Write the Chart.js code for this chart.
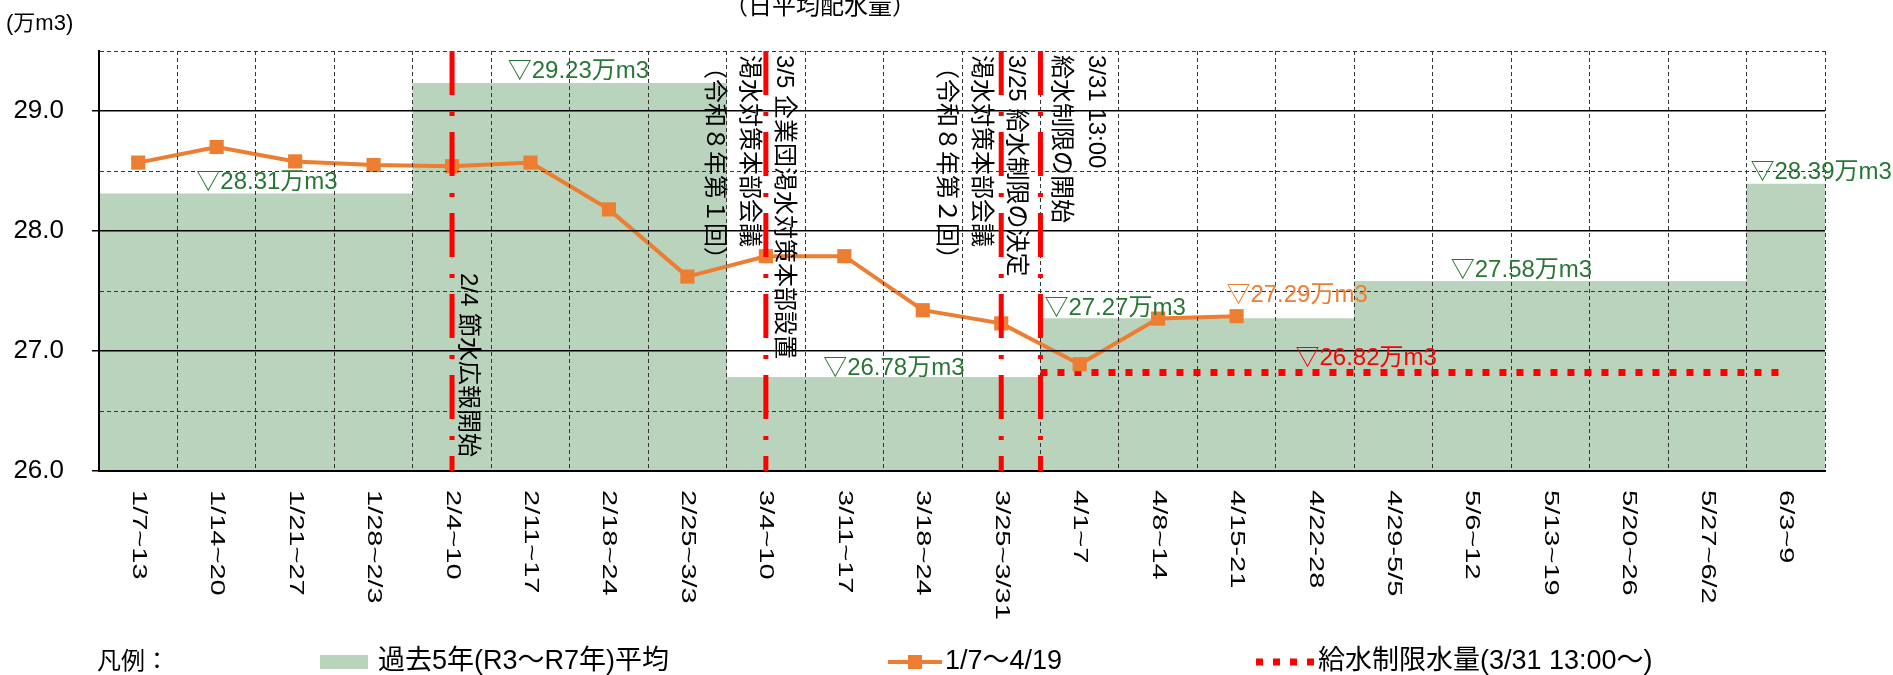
<!DOCTYPE html>
<html>
<head>
<meta charset="utf-8">
<script src="https://cdn.jsdelivr.net/npm/chart.js@4/dist/chart.umd.min.js"></script>
<style>
html, body { margin: 0; padding: 0; background: #fff; }
#wrap { width: 1893px; height: 675px; }
</style>
</head>
<body>
<div id="wrap"><canvas id="chart"></canvas></div>
<script>
let weeks = ['1/7~13', '1/14~20', '1/21~27', '1/28~2/3', '2/4~10', '2/11~17', '2/18~24', '2/25~3/3',
    '3/4~10', '3/11~17', '3/18~24', '3/25~3/31', '4/1~7', '4/8~14', '4/15-21', '4/22-28',
    '4/29-5/5', '5/6~12', '5/13~19', '5/20~26', '5/27~6/2', '6/3~9'];
let pastAvg = [28.31, 28.31, 28.31, 28.31, 29.23, 29.23, 29.23, 29.23, 26.78, 26.78, 26.78, 26.78,
    27.27, 27.27, 27.27, 27.27, 27.58, 27.58, 27.58, 27.58, 27.58, 28.39];
let thisYear = [28.57, 28.70, 28.58, 28.55, 28.54, 28.57, 28.18, 27.62, 27.79, 27.79, 27.34, 27.23,
    26.89, 27.27, 27.29];
let limitValue = 26.82;
let eventAt = [4, 8, 11, 11.5]; // position on the week axis
let eventText = [
    ['2/4 節水広報開始'],
    ['3/5 企業団渇水対策本部設置', '渇水対策本部会議', '（令和８年第１回）'],
    ['3/25 給水制限の決定', '渇水対策本部会議', '（令和８年第２回）'],
    ['3/31 13:00', '給水制限の開始']
];
let seriesNames = ['過去5年(R3～R7年)平均', '1/7～4/19', '給水制限水量(3/31 13:00～)'];

const green = 'rgb(186, 211, 189)';
const darkGreen = 'rgb(40, 118, 52)';
const orange = 'rgb(237, 125, 49)';
const red = 'rgb(255, 0, 0)';
const jp = '"Liberation Sans", "Noto Sans CJK JP"';

// where the value tags and the event texts sit (styling only)
const tagStyle = [
    { src: () => pastAvg[0], at: 0.74, dy: -11, color: darkGreen },
    { src: () => pastAvg[4], at: 4.71, dy: -12, color: darkGreen },
    { src: () => pastAvg[8], at: 8.73, dy: -9, color: darkGreen },
    { src: () => pastAvg[12], at: 11.55, dy: -10, color: darkGreen },
    { src: () => thisYear[14], at: 13.87, dy: -21, color: orange },
    { src: () => pastAvg[16], at: 16.73, dy: -11, color: darkGreen },
    { src: () => pastAvg[21], at: 20.55, dy: -12, color: darkGreen },
    { src: () => limitValue, at: 14.75, dy: -14, color: red }
];
const eventTextStyle = [
    { first: 16, down: 222 },
    { first: 18, down: 4 },
    { first: 14, down: 4 },
    { first: 55, down: 4 }
];

function gridDash(ctx) {
    if (ctx.tick && Math.abs(ctx.tick.value % 1) > 0.01) {
        return [4, 3];
    }
    return [];
}

const overlay = {
    id: 'overlay',
    afterDraw: (chart) => {
        const ctx = chart.ctx;
        const xs = chart.scales.x;
        const ys = chart.scales.y;
        const area = chart.chartArea;
        ctx.save();

        // event lines
        ctx.strokeStyle = red;
        ctx.lineWidth = 5;
        ctx.setLineDash([44, 17, 4, 16]);
        eventAt.forEach(v => {
            let px = xs.getPixelForValue(v);
            ctx.beginPath();
            ctx.moveTo(px, area.top);
            ctx.lineTo(px, area.bottom);
            ctx.stroke();
        });
        ctx.setLineDash([]);

        // event texts, rotated
        ctx.fillStyle = '#000';
        ctx.font = '24px ' + jp;
        ctx.textBaseline = 'middle';
        ctx.textAlign = 'left';
        eventText.forEach((lines, k) => {
            let px = xs.getPixelForValue(eventAt[k]);
            lines.forEach((t, j) => {
                ctx.save();
                ctx.translate(px + eventTextStyle[k].first - j * 35, area.top + eventTextStyle[k].down);
                ctx.rotate(Math.PI / 2);
                ctx.fillText(t, 0, 0);
                ctx.restore();
            });
        });

        // week labels
        ctx.font = '20px "Liberation Sans"';
        weeks.forEach((w, i) => {
            ctx.save();
            ctx.translate(xs.getPixelForValue(i), area.bottom + 19);
            ctx.rotate(Math.PI / 2);
            ctx.scale(1.45, 1);
            ctx.fillText(w, 0, 0);
            ctx.restore();
        });

        // value tags
        ctx.font = '24px ' + jp;
        tagStyle.forEach(t => {
            let v = t.src();
            ctx.fillStyle = t.color;
            ctx.fillText('▽' + v.toFixed(2) + '万m3', xs.getPixelForValue(t.at), ys.getPixelForValue(v) + t.dy);
        });

        // title and unit
        ctx.fillStyle = '#000';
        ctx.textBaseline = 'alphabetic';
        ctx.textAlign = 'center';
        ctx.font = '24px "Noto Sans CJK JP"';
        ctx.fillText('（日平均配水量）', 820, 14);
        ctx.textAlign = 'left';
        ctx.font = '22px ' + jp;
        ctx.fillText('(万m3)', 6, 30);

        // legend
        let ly = 662;
        ctx.textBaseline = 'middle';
        ctx.font = '24px ' + jp;
        ctx.fillText('凡例：', 97, ly);
        ctx.font = '27px ' + jp;
        ctx.fillStyle = green;
        ctx.fillRect(320, ly - 7, 48, 14);
        ctx.strokeStyle = orange;
        ctx.lineWidth = 4;
        ctx.beginPath();
        ctx.moveTo(888, ly);
        ctx.lineTo(942, ly);
        ctx.stroke();
        ctx.fillStyle = orange;
        ctx.fillRect(908, ly - 7, 14, 14);
        ctx.strokeStyle = red;
        ctx.lineWidth = 7;
        ctx.setLineDash([7, 10]);
        ctx.beginPath();
        ctx.moveTo(1256, ly);
        ctx.lineTo(1316, ly);
        ctx.stroke();
        ctx.setLineDash([]);
        ctx.fillStyle = '#000';
        ctx.fillText(chart.data.datasets[0].label, 378, ly);
        ctx.fillText(chart.data.datasets[1].label, 945, ly);
        ctx.fillText(chart.data.datasets[2].label, 1318, ly);

        ctx.restore();
    }
};

const config = {
    type: 'bar',
    data: {
        labels: weeks,
        datasets: [
            {
                label: seriesNames[0],
                type: 'bar',
                data: pastAvg,
                backgroundColor: green,
                borderWidth: 0,
                grouped: false,
                barPercentage: 1,
                categoryPercentage: 1,
                order: 3
            },
            {
                label: seriesNames[1],
                type: 'line',
                data: thisYear,
                borderColor: orange,
                backgroundColor: orange,
                borderWidth: 4,
                pointStyle: 'rect',
                pointRadius: 10,
                pointBorderWidth: 0,
                tension: 0,
                order: 1
            },
            {
                label: seriesNames[2],
                type: 'line',
                xAxisID: 'xl',
                data: [{ x: eventAt[3], y: limitValue }, { x: weeks.length - 1, y: limitValue }],
                borderColor: red,
                borderWidth: 7,
                borderDash: [7, 10],
                borderCapStyle: 'butt',
                pointRadius: 0,
                order: 2
            }
        ]
    },
    options: {
        responsive: true,
        maintainAspectRatio: false,
        animation: false,
        layout: {
            padding: { top: 51, right: 68, left: 0, bottom: 0 }
        },
        plugins: {
            legend: { display: false },
            tooltip: { enabled: false }
        },
        scales: {
            x: {
                offset: true,
                ticks: { display: false },
                grid: { offset: true, color: '#333', lineWidth: 1, drawTicks: false, z: 1 },
                border: { color: '#000', width: 2, dash: [4, 3], z: 2 },
                afterFit: (scale) => { scale.height = 204; }
            },
            xl: {
                type: 'linear',
                display: false,
                offset: false,
                bounds: 'data',
                grace: 0,
                min: -0.5,
                max: weeks.length - 0.5
            },
            y: {
                min: 26,
                max: 29.5,
                ticks: {
                    stepSize: 0.5,
                    color: '#000',
                    padding: 28,
                    font: { family: 'Liberation Sans', size: 26 },
                    callback: function (value) {
                        return value % 1 === 0 ? value.toFixed(1) : '';
                    }
                },
                grid: {
                    z: 1,
                    tickLength: 7,
                    color: (c) => (c.tick && c.tick.value % 1 === 0) ? '#000' : '#333',
                    lineWidth: (c) => (c.tick && c.tick.value % 1 === 0) ? 1.5 : 1,
                    tickColor: (c) => (c.tick && c.tick.value % 1 === 0) ? '#000' : 'rgba(0,0,0,0)'
                },
                border: { color: '#000', width: 2, dash: gridDash, z: 2 },
                afterFit: (scale) => { scale.width = 99; }
            }
        }
    },
    plugins: [overlay]
};

chart = new Chart(document.getElementById('chart'), config);
</script>
</body>
</html>
